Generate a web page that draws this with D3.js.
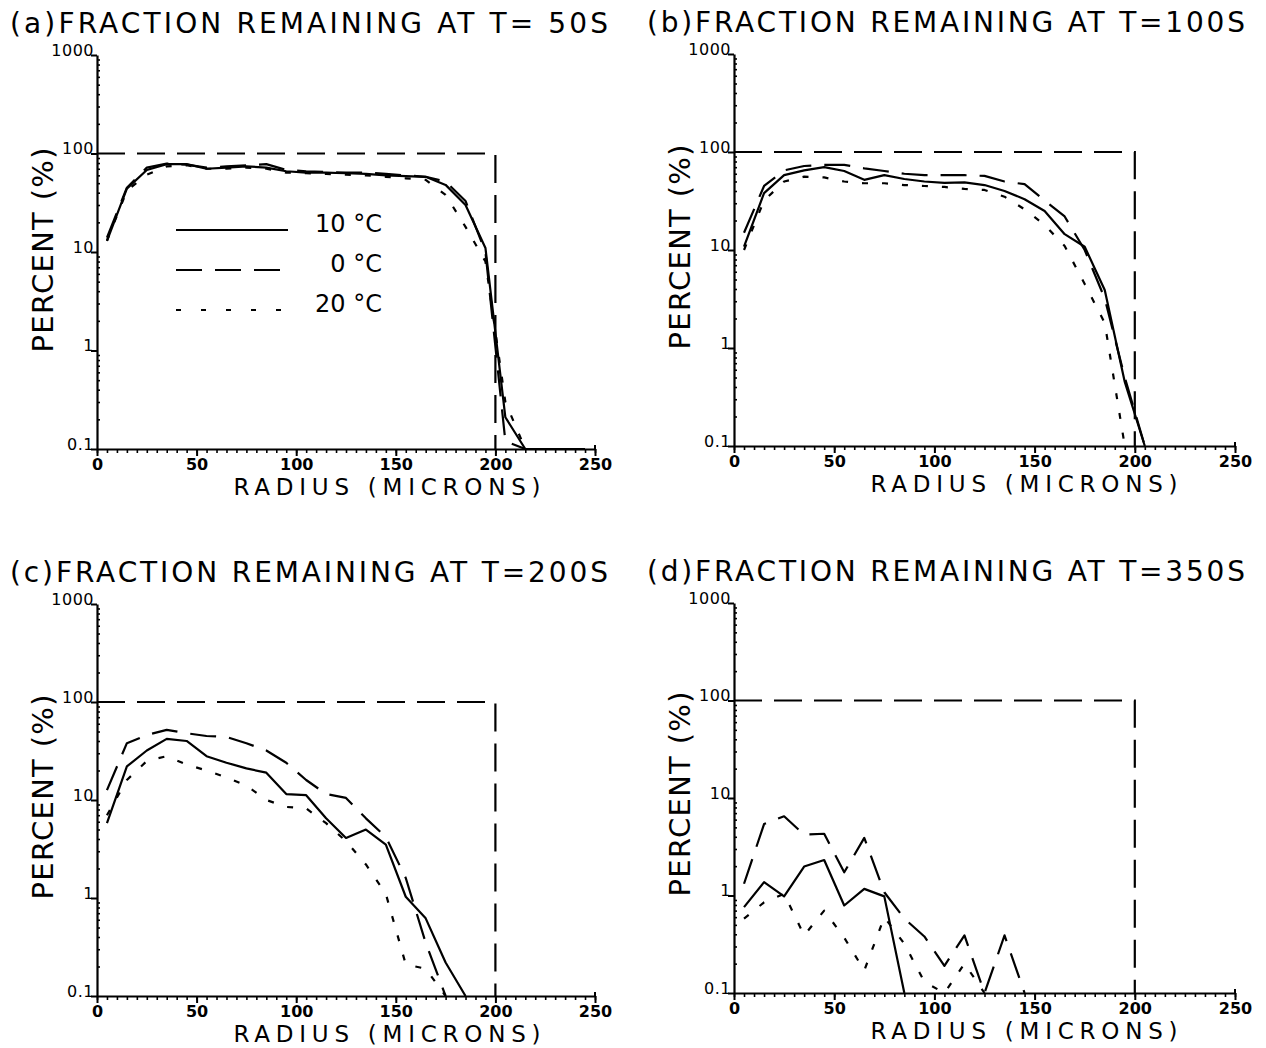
<!DOCTYPE html>
<html>
<head>
<meta charset="utf-8">
<script src="https://cdn.jsdelivr.net/npm/d3@7"></script>
<style>
  body { margin: 0; background: #fff; }
  svg { display: block; font-family: "DejaVu Sans", sans-serif; }
</style>
</head>
<body>
<div id="chart"></div>
<script>
// radius bins (microns), centre of each 10 micron bin
const radius = [5,15,25,35,45,55,65,75,85,95,105,115,125,135,145,155,165,175,185,195,205,215,225,235,245];

// percent remaining (index matches radius)
const a10 = [13,44,68,78,78,70,72,74,72,66,64,64,63,62,60,59,58,48,30,11,0.21,0.1,0.1,0.1,0.1];
const a0  = [14,45,72,79,77,72,74,76,78,68,66,65,64,64,62,60,58,52,33,10,0.12,0.1];
const a20 = [13,42,61,74,76,70,70,72,70,64,63,62,61,60,58,56,54,38,18,8,0.3,0.1];

const b10 = [10.8,38,58,65,70,64,52,58,53,50,48.5,49,46,40,33,25,14.5,10.8,3.9,0.45,0.1];
const b0  = [15,45,65,72,74,74,68,64,60,58,58,58,57,50,47,32,22,10,3.2,0.5,0.1];
const b20 = [10,32,50,56,55,50,48,48,46,45,44,42,41,35,26,18,11,4.5,1.8,0.1];

const c10 = [5.8,22,32,42,40,28,24,21,19,11.5,11.2,6.5,4.1,5.0,3.5,1.03,0.62,0.22,0.1];
const c0  = [12.6,38,46,52,48,45,44,38,32,24,16,11.5,10.5,6.5,4.2,1.6,0.35,0.1];
const c20 = [7,16,25,28,23,20,17,14,10,8.5,8.2,5.8,3.8,2.2,1.1,0.21,0.19,0.1];

const d10 = [0.76,1.37,0.98,1.98,2.31,0.79,1.17,0.98,0.1];
const d0  = [1.32,5.4,6.5,4.2,4.3,1.73,3.9,1.08,0.58,0.38,0.19,0.39,0.1,0.39,0.1];
const d20 = [0.58,0.85,1.04,0.39,0.70,0.37,0.17,0.6,0.32,0.13,0.1,0.2,0.1];

const seriesNames = ["10 \u00B0C", "0 \u00B0C", "20 \u00B0C"];
const dashes = [null, "26,13", "6,14"];

const xTicks = [0,50,100,150,200,250];
const yTicks = [0.1,1,10,100,1000];
const yTickLabels = ["0.1","1","10","100","1000"];

// reference box: 100 % up to 200 microns
const refRadius = 200, refPercent = 100;

const panels = [
  {title: "(a)FRACTION REMAINING AT T= 50S", series: [a10,a0,a20], left: 97,  right: 595,  top: 55,  bottom: 449, legend: true},
  {title: "(b)FRACTION REMAINING AT T=100S", series: [b10,b0,b20], left: 734, right: 1235, top: 54,  bottom: 446},
  {title: "(c)FRACTION REMAINING AT T=200S", series: [c10,c0,c20], left: 97,  right: 595,  top: 604, bottom: 996},
  {title: "(d)FRACTION REMAINING AT T=350S", series: [d10,d0,d20], left: 734, right: 1235, top: 603, bottom: 993}
];

const svg = d3.select("#chart").append("svg")
  .attr("width", 1266)
  .attr("height", 1048);

const minorY = [];
[0.1,1,10,100].forEach(b => { for (let k = 2; k <= 9; k++) minorY.push(b * k); });

panels.forEach(p => {
  const x = d3.scaleLinear().domain([0,250]).range([p.left, p.right]);
  const y = d3.scaleLog().domain([0.1,1000]).range([p.bottom, p.top]);
  const g = svg.append("g");

  // title
  g.append("text")
    .attr("x", p.left - 87)
    .attr("y", p.top - 22)
    .attr("font-size", 28)
    .attr("textLength", 598)
    .attr("lengthAdjust", "spacing")
    .text(p.title);

  // x axis
  g.append("g")
    .attr("transform", `translate(0,${p.bottom})`)
    .call(d3.axisBottom(x).tickValues(d3.range(0,251,5)).tickSize(4).tickSizeOuter(0).tickFormat(""))
    .call(a => a.select(".domain").attr("stroke-width", 2.2))
    .call(a => a.selectAll("line").attr("stroke-width", 1.6));
  g.append("g")
    .attr("transform", `translate(0,${p.bottom})`)
    .call(d3.axisBottom(x).tickValues(xTicks).tickSize(7).tickSizeOuter(0).tickPadding(3).tickFormat(d3.format("d")))
    .call(a => a.select(".domain").remove())
    .call(a => a.selectAll("line").attr("stroke-width", 2))
    .call(a => a.selectAll("text").attr("font-size", 16).attr("font-weight", "bold")
      .attr("font-family", "DejaVu Sans").attr("fill", "#000"));
  g.append("line")
    .attr("x1", x(250)).attr("x2", x(250))
    .attr("y1", p.bottom).attr("y2", p.bottom - 4)
    .attr("stroke", "#000").attr("stroke-width", 2);

  // y axis
  g.append("g")
    .attr("transform", `translate(${p.left},0)`)
    .call(d3.axisRight(y).tickValues(minorY).tickSize(3).tickSizeOuter(0).tickFormat(""))
    .call(a => a.select(".domain").attr("stroke-width", 2.2))
    .call(a => a.selectAll("line").attr("stroke-width", 1.6));
  g.append("g")
    .attr("transform", `translate(${p.left},0)`)
    .call(d3.axisLeft(y).tickValues(yTicks).tickSize(6).tickSizeOuter(0)
      .tickFormat((d, i) => yTickLabels[i]))
    .call(a => a.select(".domain").remove())
    .call(a => a.selectAll("line").attr("stroke-width", 2))
    .call(a => a.selectAll("text")
      .attr("x", -3).attr("dy", 0)
      .attr("font-size", 16).attr("letter-spacing", 0.5)
      .attr("font-family", "DejaVu Sans").attr("fill", "#000"));

  // axis titles
  g.append("text")
    .attr("transform", `translate(${p.left - 44},${p.bottom - 199}) rotate(-90)`)
    .attr("text-anchor", "middle")
    .attr("font-size", 29)
    .attr("textLength", 205)
    .attr("lengthAdjust", "spacing")
    .text("PERCENT (%)");
  g.append("text")
    .attr("x", p.left + 290)
    .attr("y", p.bottom + 46)
    .attr("text-anchor", "middle")
    .attr("font-size", 23)
    .attr("textLength", 307)
    .attr("lengthAdjust", "spacing")
    .text("RADIUS (MICRONS)");

  // reference box
  g.append("path")
    .attr("d", d3.line()([[x(0), y(refPercent)], [x(refRadius), y(refPercent)], [x(refRadius), y(0.1)]]))
    .attr("fill", "none")
    .attr("stroke", "#000")
    .attr("stroke-width", 2.2)
    .attr("stroke-dasharray", "28,12");

  // data lines
  const line = d3.line()
    .x((d, i) => x(radius[i]))
    .y(d => y(Math.max(d, 0.1)));
  p.series.forEach((s, k) => {
    g.append("path")
      .datum(s)
      .attr("d", line)
      .attr("fill", "none")
      .attr("stroke", "#000")
      .attr("stroke-width", 2.2)
      .attr("stroke-linejoin", "round")
      .attr("stroke-dasharray", dashes[k]);
  });

  // legend
  if (p.legend) {
    const lg = g.append("g");
    seriesNames.forEach((name, k) => {
      const ly = 230 + k * 40;
      lg.append("line")
        .attr("x1", 176).attr("x2", 288)
        .attr("y1", ly).attr("y2", ly)
        .attr("stroke", "#000")
        .attr("stroke-width", 2.2)
        .attr("stroke-dasharray", k === 2 ? "5,20" : dashes[k]);
      lg.append("text")
        .attr("x", 382)
        .attr("y", ly + 2)
        .attr("text-anchor", "end")
        .attr("font-size", 24)
        .text(name);
    });
  }
});
</script>
</body>
</html>
